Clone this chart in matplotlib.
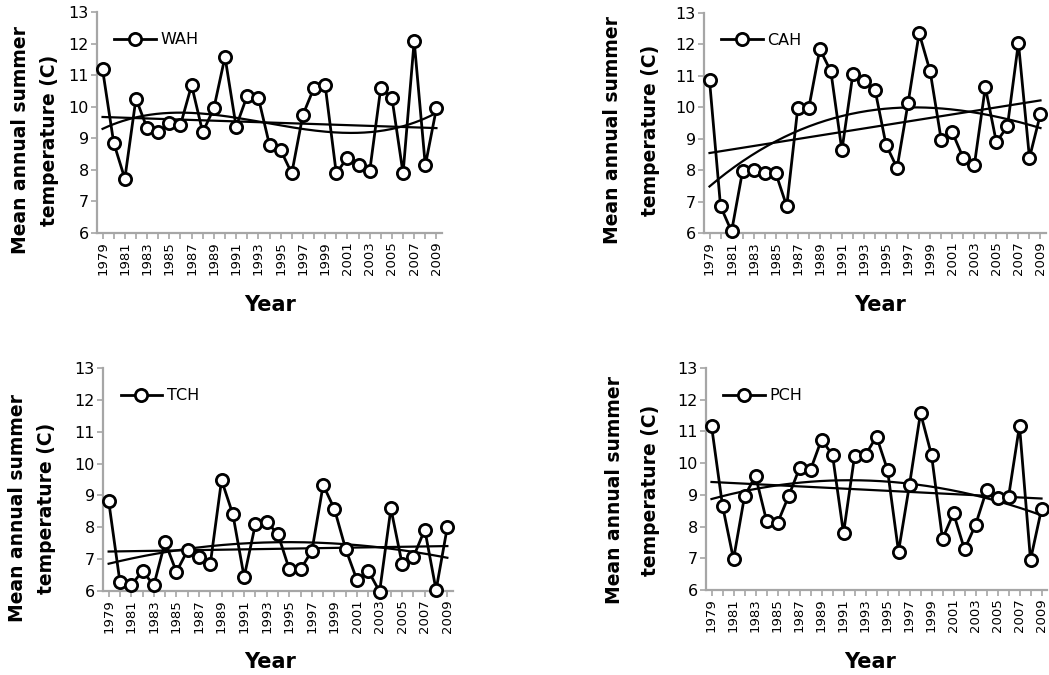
import numpy as np
import matplotlib
matplotlib.use("Agg")
import matplotlib.pyplot as plt
from matplotlib.lines import Line2D

plt.rcParams['font.family'] = ['DejaVu Sans']

years = list(range(1979, 2010))

wah = [11.18, 8.86, 7.72, 10.26, 9.32, 9.19, 9.47, 9.42, 10.68, 9.19, 9.95, 11.58,
       9.37, 10.35, 10.28, 8.79, 8.63, 7.89, 9.74, 10.60, 10.68, 7.89, 8.39, 8.14,
       7.95, 10.60, 10.28, 7.89, 12.08, 8.14, 9.95]
cah = [10.86, 6.85, 6.05, 7.98, 8.0, 7.91, 7.91, 6.85, 9.98, 9.98, 11.85, 11.14,
       8.63, 11.07, 10.83, 10.56, 8.81, 8.07, 10.14, 12.36, 11.14, 8.97, 9.21, 8.39,
       8.15, 10.64, 8.89, 9.39, 12.05, 8.39, 9.79]
tch = [8.83, 6.28, 6.18, 6.63, 6.18, 7.54, 6.60, 7.28, 7.07, 6.84, 9.48, 8.41,
       6.44, 8.10, 8.17, 7.78, 6.68, 6.68, 7.26, 9.33, 8.57, 7.31, 6.34, 6.63,
       5.98, 8.59, 6.84, 7.07, 7.93, 6.03, 8.01]
pch = [11.18, 8.66, 6.97, 8.95, 9.60, 8.19, 8.11, 8.95, 9.84, 9.79, 10.74, 10.26,
       7.79, 10.21, 10.26, 10.84, 9.79, 7.21, 9.32, 11.58, 10.26, 7.61, 8.42, 7.28,
       8.05, 9.14, 8.89, 8.93, 11.18, 6.95, 8.55]

series_names = ["WAH", "CAH", "TCH", "PCH"]
series_values = [wah, cah, tch, pch]
yticks = [6, 7, 8, 9, 10, 11, 12, 13]
ylabel_1 = "Mean annual summer"
ylabel_2 = "temperature (C)"
xlabel = "Year"

W, H = 1049, 675
fig = plt.figure(figsize=(W / 100, H / 100), dpi=100)

# axes boxes in pixels: left, right, top, bottom
boxes = [(97, 442, 12, 233), (704, 1046, 13, 233), (103, 453, 368, 591), (706, 1047, 368, 590)]
ylab_x = [(21, 50), (612, 650), (18, 47), (614, 650)]
ylab_y = [140, 130, 508, 490]
xlab_pos = [(270, 305), (880, 305), (270, 662), (870, 662)]

gray = "#a6a6a6"
for i, (name, vals) in enumerate(zip(series_names, series_values)):
    l, r, t, b = boxes[i]
    ax = fig.add_axes([l / W, 1 - b / H, (r - l) / W, (b - t) / H])
    x = np.array(years, dtype=float)
    y = np.array(vals)
    xf = np.linspace(1979, 2009, 200)
    c1 = np.polyfit(x - 1979, y, 1)
    ax.plot(xf, np.polyval(c1, xf - 1979), color="black", lw=1.6, zorder=2)
    c3 = np.polyfit(x - 1979, y, 3)
    ax.plot(xf, np.polyval(c3, xf - 1979), color="black", lw=1.6, zorder=2)
    ax.plot(x, y, color="black", lw=2.0, marker="o", markersize=8.8,
            markerfacecolor="white", markeredgecolor="black", markeredgewidth=2.0,
            zorder=3, clip_on=False)
    ax.set_xlim(1978.5, 2009.5)
    ax.set_ylim(6, 13)
    ax.set_yticks(yticks)
    ax.set_yticklabels([str(v) for v in yticks], fontsize=11.5)
    ax.set_xticks(years, minor=True)
    ax.set_xticks(years[::2])
    ax.set_xticklabels([str(v) for v in years[::2]], rotation=90, fontsize=9.5)
    for s in ["top", "right"]:
        ax.spines[s].set_visible(False)
    for s in ["left", "bottom"]:
        ax.spines[s].set_color(gray)
        ax.spines[s].set_linewidth(1.6)
    ax.tick_params(axis="both", which="both", color=gray, width=1.2, length=4, pad=2)
    h = Line2D([], [], color="black", lw=2.0, marker="o", markersize=8.8,
               markerfacecolor="white", markeredgecolor="black", markeredgewidth=2.0)
    ax.legend([h], [name], loc="center left", bbox_to_anchor=(0.05, 0.875),
              frameon=False, fontsize=11.5, handlelength=2.6, handletextpad=0.3,
              borderpad=0, borderaxespad=0)
    x1, x2 = ylab_x[i]
    fig.text(x1 / W, 1 - ylab_y[i] / H, ylabel_1, rotation=90,
             ha="center", va="center", fontsize=13.5, fontweight="bold")
    fig.text(x2 / W, 1 - ylab_y[i] / H, ylabel_2, rotation=90,
             ha="center", va="center", fontsize=13.5, fontweight="bold")
    xx, yy = xlab_pos[i]
    fig.text(xx / W, 1 - yy / H, xlabel, ha="center", va="center",
             fontsize=15, fontweight="bold")

fig.savefig("out.png", dpi=100)
